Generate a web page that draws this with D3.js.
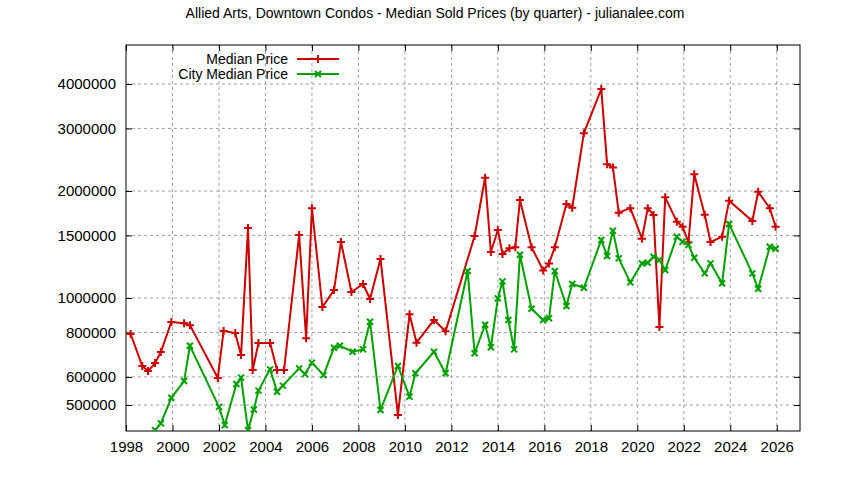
<!DOCTYPE html>
<html><head><meta charset="utf-8">
<script src="https://cdn.jsdelivr.net/npm/d3@7"></script>
<style>body{margin:0;background:#fff}text{font-family:"Liberation Sans",Arial,sans-serif}</style>
</head><body><svg id="c" width="844" height="480"></svg>
<script>
const title = "Allied Arts, Downtown Condos - Median Sold Prices (by quarter) - julianalee.com";
const seriesNames = ["Median Price", "City Median Price"];
const medianYears = [1998.2,1998.7,1998.95,1999.25,1999.5,1999.95,2000.5,2000.75,2001.95,2002.2,2002.7,2002.95,2003.25,2003.45,2003.7,2004.2,2004.5,2004.8,2005.45,2005.75,2006.0,2006.45,2006.95,2007.25,2007.7,2008.2,2008.5,2008.95,2009.7,2010.2,2010.5,2011.25,2011.75,2013.0,2013.45,2013.7,2014.0,2014.2,2014.5,2014.75,2014.95,2015.45,2015.95,2016.2,2016.45,2016.95,2017.2,2017.7,2018.45,2018.7,2018.95,2019.2,2019.7,2020.2,2020.45,2020.7,2020.95,2021.2,2021.7,2021.95,2022.2,2022.45,2022.9,2023.15,2023.65,2023.95,2024.95,2025.2,2025.7,2025.95];
const medianValues = [792000,644000,623000,656000,705000,856000,849000,839000,596000,808000,797000,691000,1574000,627000,747000,747000,627000,627000,1504000,771000,1790000,943000,1053000,1438000,1040000,1095000,994000,1288000,469000,900000,749000,867000,806000,1494000,2180000,1347000,1553000,1330000,1380000,1390000,1888000,1390000,1196000,1250000,1390000,1839000,1795000,2910000,3870000,2380000,2330000,1738000,1790000,1469000,1790000,1713000,829000,1920000,1640000,1587000,1435000,2230000,1716000,1437000,1488000,1878000,1647000,1991000,1790000,1587000];
const cityYears = [1999.25,1999.5,1999.95,2000.5,2000.75,2002.0,2002.25,2002.75,2002.95,2003.25,2003.5,2003.7,2004.2,2004.5,2004.75,2005.45,2005.7,2006.0,2006.5,2006.95,2007.2,2007.75,2008.2,2008.5,2008.95,2009.7,2010.2,2010.45,2011.25,2011.75,2012.7,2013.0,2013.45,2013.7,2014.0,2014.2,2014.45,2014.7,2014.95,2015.45,2015.95,2016.2,2016.45,2016.95,2017.2,2017.7,2018.45,2018.7,2018.95,2019.2,2019.7,2020.2,2020.45,2020.7,2020.95,2021.2,2021.7,2021.95,2022.2,2022.45,2022.9,2023.15,2023.65,2023.95,2024.95,2025.2,2025.7,2025.95];
const cityValues = [425000,444000,524000,584000,734000,494000,439000,573000,597000,425000,486000,549000,630000,545000,567000,634000,611000,658000,607000,725000,734000,706000,717000,858000,484000,644000,528000,614000,706000,614000,1191000,699000,841000,727000,998000,1114000,867000,717000,1324000,933000,867000,877000,1191000,950000,1095000,1069000,1456000,1313000,1547000,1293000,1107000,1252000,1257000,1307000,1279000,1199000,1488000,1440000,1410000,1298000,1173000,1252000,1100000,1615000,1173000,1062000,1394000,1376000];
const yTicks = [500000,600000,800000,1000000,1500000,2000000,3000000,4000000];
const xTicks = d3.range(1998, 2027, 2);

const svg = d3.select("#c");
const L=126,R=800,T=45,B=431;
const x = d3.scaleLinear().domain([1998,2027]).range([L,R]);
const y = d3.scaleLog().domain([422600,5150000]).range([B,T]);

svg.append("text").attr("x",435).attr("y",18).attr("text-anchor","middle").attr("font-size",14).text(title);

const grid = svg.append("g").attr("stroke","#a0a0a0").attr("stroke-dasharray","3,3").attr("stroke-width",1);
xTicks.slice(1).forEach(t=>grid.append("line").attr("x1",x(t)).attr("x2",x(t)).attr("y1",T).attr("y2",B));
yTicks.forEach(t=>grid.append("line").attr("x1",L).attr("x2",R).attr("y1",y(t)).attr("y2",y(t)));

const ax = svg.append("g").attr("transform",`translate(0,${B})`).call(d3.axisBottom(x).tickValues(xTicks).tickFormat(d3.format("d")).tickSize(-6).tickPadding(10));
const ay = svg.append("g").attr("transform",`translate(${L},0)`).call(d3.axisLeft(y).tickValues(yTicks).tickFormat(d3.format("d")).tickSize(-6).tickPadding(10));
svg.append("g").attr("transform",`translate(0,${T})`).call(d3.axisTop(x).tickValues(xTicks).tickFormat("").tickSize(-6));
svg.append("g").attr("transform",`translate(${R},0)`).call(d3.axisRight(y).tickValues(yTicks).tickFormat("").tickSize(-6));
svg.selectAll(".domain").remove();
svg.selectAll(".tick line").attr("stroke","#000");
svg.selectAll(".tick text").attr("font-size",15).attr("fill","#000").style("font-family","Liberation Sans, Arial, sans-serif");
svg.append("rect").attr("x",L).attr("y",T).attr("width",R-L).attr("height",B-T).attr("fill","none").attr("stroke","#000");

const clip = svg.append("clipPath").attr("id","cp").append("rect").attr("x",L).attr("y",T).attr("width",R-L).attr("height",B-T);
const plot = svg.append("g").attr("clip-path","url(#cp)");
const line = d3.line().x(d=>x(d[0])).y(d=>y(d[1]));
function draw(xs, vs, color, mark){
  const pts = xs.map((a,i)=>[a,vs[i]]);
  plot.append("path").datum(pts).attr("d",line).attr("fill","none").attr("stroke",color).attr("stroke-width",2);
  const g = plot.append("g").attr("stroke",color).attr("stroke-width",2);
  pts.forEach(p=>marker(g,x(p[0]),y(p[1]),mark));
}
function marker(g,cx,cy,m){
  if(m==="+"){g.append("path").attr("d",`M${cx-4},${cy}H${cx+4}M${cx},${cy-4}V${cy+4}`);}
  else {g.append("path").attr("d",`M${cx-3},${cy-3}L${cx+3},${cy+3}M${cx-3},${cy+3}L${cx+3},${cy-3}`);}
}
draw(medianYears, medianValues, "#cc0000", "+");
draw(cityYears, cityValues, "#00a000", "x");

const lg = svg.append("g");
[[seriesNames[0],"#cc0000","+",59],[seriesNames[1],"#00a000","x",74]].forEach(([n,c,m,yy])=>{
  lg.append("text").attr("x",288).attr("y",yy+5).attr("text-anchor","end").attr("font-size",14).text(n);
  lg.append("line").attr("x1",297).attr("x2",339).attr("y1",yy).attr("y2",yy).attr("stroke",c).attr("stroke-width",2);
  marker(lg.append("g").attr("stroke",c).attr("stroke-width",2),318,yy,m);
});
</script></body></html>
